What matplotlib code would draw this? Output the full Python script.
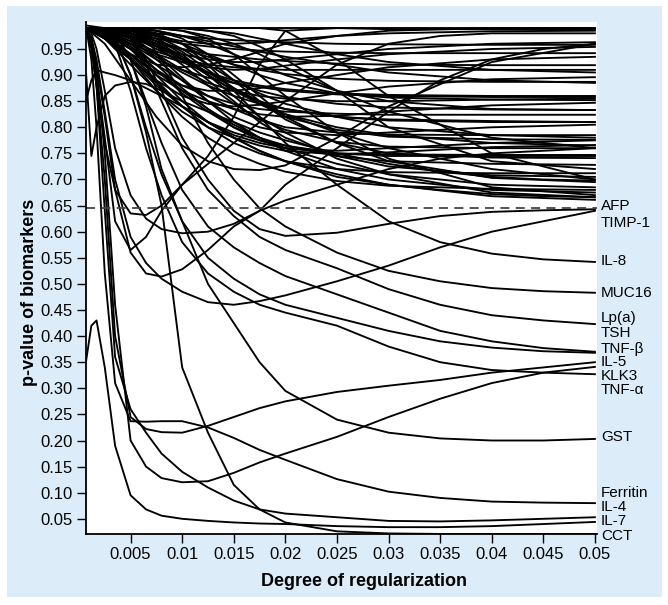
import matplotlib
matplotlib.use("Agg")
import matplotlib.pyplot as plt
from matplotlib.transforms import blended_transform_factory

plt.rcParams['font.family'] = ['Liberation Sans', 'DejaVu Sans']

# ---------------- data ----------------
# regularization grid for the labelled (low p-value) biomarkers
x_low = [0.0007, 0.0012, 0.0017, 0.0025, 0.0035, 0.005, 0.0065, 0.008, 0.01, 0.0125,
         0.015, 0.0175, 0.02, 0.025, 0.03, 0.035, 0.04, 0.045, 0.05]

afp      = [0.99, 0.99, 0.99, 0.99, 0.99, 0.97, 0.93, 0.87, 0.78, 0.70, 0.64, 0.605, 0.592, 0.598, 0.615, 0.63, 0.638, 0.641, 0.643]
timp1    = [0.99, 0.97, 0.93, 0.83, 0.70, 0.59, 0.54, 0.51, 0.485, 0.465, 0.46, 0.467, 0.478, 0.505, 0.535, 0.57, 0.60, 0.62, 0.64]
il8      = [0.99, 0.99, 0.99, 0.99, 0.99, 0.99, 0.985, 0.975, 0.96, 0.92, 0.87, 0.82, 0.77, 0.69, 0.62, 0.58, 0.558, 0.547, 0.542]
muc16    = [0.99, 0.99, 0.99, 0.99, 0.99, 0.99, 0.97, 0.93, 0.86, 0.77, 0.70, 0.645, 0.61, 0.56, 0.525, 0.505, 0.492, 0.486, 0.483]
lpa      = [0.99, 0.99, 0.99, 0.99, 0.985, 0.97, 0.92, 0.85, 0.76, 0.68, 0.63, 0.59, 0.565, 0.53, 0.49, 0.46, 0.44, 0.43, 0.423]
tsh      = [0.99, 0.99, 0.99, 0.99, 0.98, 0.93, 0.85, 0.77, 0.68, 0.61, 0.57, 0.54, 0.515, 0.48, 0.445, 0.41, 0.39, 0.377, 0.37]
tnfb     = [0.99, 0.99, 0.99, 0.985, 0.97, 0.90, 0.80, 0.71, 0.62, 0.55, 0.51, 0.48, 0.46, 0.435, 0.41, 0.39, 0.378, 0.371, 0.368]
il5      = [0.99, 0.96, 0.88, 0.70, 0.40, 0.245, 0.222, 0.216, 0.215, 0.228, 0.245, 0.262, 0.275, 0.293, 0.305, 0.316, 0.33, 0.34, 0.35]
klk3     = [0.99, 0.99, 0.99, 0.98, 0.96, 0.87, 0.76, 0.67, 0.58, 0.52, 0.485, 0.46, 0.445, 0.42, 0.38, 0.35, 0.335, 0.33, 0.327]
tnfa     = [0.99, 0.97, 0.91, 0.75, 0.46, 0.20, 0.15, 0.128, 0.12, 0.122, 0.138, 0.158, 0.175, 0.207, 0.245, 0.28, 0.31, 0.33, 0.341]
gst      = [0.99, 0.99, 0.99, 0.99, 0.98, 0.93, 0.84, 0.72, 0.62, 0.50, 0.425, 0.35, 0.295, 0.24, 0.215, 0.204, 0.20, 0.20, 0.203]
ferritin = [0.99, 0.93, 0.80, 0.52, 0.31, 0.237, 0.236, 0.237, 0.237, 0.225, 0.205, 0.182, 0.163, 0.126, 0.102, 0.09, 0.083, 0.081, 0.080]
il4      = [0.99, 0.96, 0.88, 0.64, 0.36, 0.26, 0.215, 0.175, 0.14, 0.11, 0.085, 0.068, 0.06, 0.053, 0.046, 0.045, 0.047, 0.05, 0.053]
il7      = [0.354, 0.42, 0.43, 0.34, 0.19, 0.095, 0.068, 0.056, 0.050, 0.046, 0.043, 0.041, 0.040, 0.036, 0.034, 0.034, 0.036, 0.040, 0.044]
cct      = [0.99, 0.99, 0.99, 0.99, 0.97, 0.90, 0.79, 0.65, 0.34, 0.215, 0.115, 0.068, 0.043, 0.026, 0.022, 0.021, 0.021, 0.021, 0.021]

# unlabelled curves that dip below the cut-off and rise again
dip_a    = [0.99, 0.96, 0.90, 0.78, 0.62, 0.565, 0.59, 0.64, 0.69, 0.745, 0.82, 0.92, 0.985, 0.99, 0.988, 0.988, 0.988, 0.988, 0.988]
dip_b    = [0.99, 0.95, 0.88, 0.77, 0.68, 0.635, 0.632, 0.65, 0.69, 0.73, 0.77, 0.81, 0.85, 0.92, 0.96, 0.975, 0.98, 0.98, 0.98]
dip_c    = [0.99, 0.97, 0.92, 0.82, 0.68, 0.56, 0.52, 0.514, 0.528, 0.565, 0.61, 0.64, 0.69, 0.76, 0.83, 0.89, 0.93, 0.95, 0.96]
dip_d    = [0.99, 0.98, 0.95, 0.87, 0.76, 0.67, 0.625, 0.605, 0.597, 0.60, 0.615, 0.64, 0.66, 0.69, 0.72, 0.74, 0.75, 0.755, 0.76]
dip_e    = [0.852, 0.89, 0.91, 0.905, 0.90, 0.89, 0.875, 0.86, 0.84, 0.81, 0.78, 0.755, 0.735, 0.705, 0.69, 0.68, 0.672, 0.668, 0.666]
dip_f    = [0.90, 0.745, 0.80, 0.86, 0.88, 0.887, 0.883, 0.87, 0.85, 0.83, 0.81, 0.79, 0.775, 0.75, 0.73, 0.715, 0.705, 0.70, 0.698]

lower_series = [afp, timp1, il8, muc16, lpa, tsh, tnfb, il5, klk3, tnfa, gst, ferritin, il4, il7, cct,
                dip_a, dip_b, dip_c, dip_d, dip_e, dip_f]

# regularization grid for the unlabelled (high p-value) biomarkers
x_high = [0.0007, 0.0025, 0.005, 0.0075, 0.01, 0.0125, 0.015, 0.0175, 0.02, 0.025, 0.03, 0.04, 0.05]

u01 = [0.99, 0.99, 0.99, 0.99, 0.99, 0.99, 0.99, 0.99, 0.99, 0.99, 0.99, 0.99, 0.99]
u02 = [0.995, 0.99, 0.985, 0.975, 0.965, 0.96, 0.96, 0.962, 0.967, 0.975, 0.98, 0.984, 0.985]
u03 = [0.99, 0.985, 0.97, 0.955, 0.94, 0.93, 0.925, 0.925, 0.93, 0.94, 0.95, 0.96, 0.963]
u04 = [0.99, 0.99, 0.985, 0.98, 0.975, 0.97, 0.967, 0.965, 0.963, 0.96, 0.959, 0.958, 0.958]
u05 = [0.99, 0.98, 0.96, 0.94, 0.925, 0.915, 0.91, 0.912, 0.918, 0.93, 0.94, 0.95, 0.954]
u06 = [0.99, 0.99, 0.98, 0.97, 0.96, 0.955, 0.95, 0.947, 0.945, 0.943, 0.942, 0.942, 0.942]
u07 = [0.99, 0.975, 0.94, 0.905, 0.88, 0.87, 0.87, 0.875, 0.885, 0.90, 0.915, 0.93, 0.935]
u08 = [0.99, 0.99, 0.975, 0.96, 0.95, 0.94, 0.935, 0.93, 0.927, 0.922, 0.92, 0.919, 0.919]
u09 = [0.99, 0.985, 0.965, 0.945, 0.93, 0.92, 0.915, 0.912, 0.91, 0.91, 0.91, 0.91, 0.91]
u10 = [0.99, 0.97, 0.93, 0.89, 0.86, 0.845, 0.84, 0.843, 0.85, 0.865, 0.878, 0.892, 0.896]
u11 = [0.99, 0.99, 0.98, 0.965, 0.95, 0.935, 0.92, 0.91, 0.902, 0.893, 0.889, 0.887, 0.887]
u12 = [0.99, 0.985, 0.96, 0.93, 0.91, 0.895, 0.885, 0.877, 0.87, 0.863, 0.86, 0.858, 0.858]
u13 = [0.99, 0.99, 0.985, 0.975, 0.96, 0.94, 0.92, 0.90, 0.885, 0.865, 0.857, 0.853, 0.852]
u14 = [0.99, 0.975, 0.94, 0.90, 0.87, 0.85, 0.835, 0.825, 0.82, 0.822, 0.83, 0.842, 0.847]
u15 = [0.99, 0.99, 0.975, 0.955, 0.93, 0.905, 0.885, 0.87, 0.858, 0.845, 0.838, 0.834, 0.833]
u16 = [0.99, 0.98, 0.95, 0.91, 0.88, 0.86, 0.845, 0.835, 0.83, 0.826, 0.824, 0.824, 0.824]
u17 = [0.99, 0.99, 0.98, 0.96, 0.93, 0.90, 0.87, 0.85, 0.835, 0.82, 0.813, 0.81, 0.81]
u18 = [0.99, 0.98, 0.955, 0.92, 0.89, 0.86, 0.835, 0.815, 0.80, 0.79, 0.786, 0.785, 0.785]
u19 = [0.99, 0.99, 0.985, 0.97, 0.945, 0.91, 0.875, 0.845, 0.82, 0.795, 0.782, 0.777, 0.776]
u20 = [0.99, 0.97, 0.92, 0.87, 0.83, 0.80, 0.78, 0.765, 0.755, 0.748, 0.752, 0.762, 0.766]
u21 = [0.99, 0.99, 0.98, 0.955, 0.92, 0.88, 0.845, 0.815, 0.795, 0.772, 0.763, 0.76, 0.76]
u22 = [0.99, 0.985, 0.96, 0.92, 0.875, 0.835, 0.80, 0.775, 0.76, 0.75, 0.748, 0.747, 0.747]
u23 = [0.99, 0.99, 0.99, 0.98, 0.96, 0.93, 0.89, 0.85, 0.815, 0.77, 0.75, 0.742, 0.741]
u24 = [0.99, 0.98, 0.94, 0.89, 0.84, 0.80, 0.77, 0.75, 0.735, 0.72, 0.714, 0.712, 0.712]
u25 = [0.99, 0.99, 0.98, 0.96, 0.93, 0.89, 0.85, 0.81, 0.78, 0.745, 0.725, 0.708, 0.705]
u26 = [0.99, 0.99, 0.99, 0.985, 0.97, 0.94, 0.90, 0.86, 0.82, 0.77, 0.735, 0.703, 0.695]
u27 = [0.99, 0.975, 0.93, 0.87, 0.82, 0.78, 0.75, 0.73, 0.715, 0.697, 0.688, 0.682, 0.68]
u28 = [0.99, 0.99, 0.975, 0.94, 0.895, 0.85, 0.81, 0.78, 0.755, 0.72, 0.70, 0.68, 0.675]
u29 = [0.99, 0.99, 0.985, 0.97, 0.94, 0.90, 0.86, 0.82, 0.79, 0.74, 0.71, 0.675, 0.666]
u30 = [0.99, 0.98, 0.95, 0.90, 0.85, 0.81, 0.78, 0.755, 0.735, 0.71, 0.69, 0.668, 0.661]
u31 = [0.99, 0.97, 0.94, 0.92, 0.915, 0.92, 0.93, 0.945, 0.96, 0.975, 0.985, 0.99, 0.99]
u32 = [0.99, 0.99, 0.99, 0.99, 0.985, 0.97, 0.94, 0.90, 0.86, 0.79, 0.74, 0.685, 0.67]
u33 = [0.99, 0.99, 0.99, 0.99, 0.99, 0.985, 0.975, 0.955, 0.93, 0.87, 0.80, 0.735, 0.72]
u34 = [0.99, 0.96, 0.89, 0.82, 0.765, 0.735, 0.72, 0.718, 0.727, 0.78, 0.84, 0.925, 0.96]
u35 = [0.99, 0.99, 0.99, 0.99, 0.99, 0.99, 0.99, 0.99, 0.985, 0.93, 0.86, 0.75, 0.70]
u36 = [0.99, 0.99, 0.97, 0.93, 0.89, 0.85, 0.82, 0.80, 0.79, 0.785, 0.79, 0.80, 0.805]
u37 = [0.99, 0.985, 0.955, 0.91, 0.865, 0.83, 0.80, 0.78, 0.765, 0.745, 0.735, 0.73, 0.728]
u38 = [0.99, 0.99, 0.99, 0.975, 0.95, 0.92, 0.89, 0.865, 0.845, 0.82, 0.80, 0.785, 0.78]
u39 = [0.99, 0.98, 0.95, 0.91, 0.87, 0.835, 0.805, 0.78, 0.76, 0.73, 0.71, 0.69, 0.685]
u40 = [0.99, 0.99, 0.985, 0.965, 0.935, 0.90, 0.87, 0.845, 0.825, 0.80, 0.785, 0.77, 0.765]
u41 = [0.99, 0.99, 0.97, 0.94, 0.91, 0.885, 0.87, 0.86, 0.855, 0.85, 0.85, 0.853, 0.855]
u42 = [0.99, 0.985, 0.965, 0.935, 0.905, 0.88, 0.86, 0.845, 0.835, 0.82, 0.815, 0.812, 0.81]
u43 = [0.99, 0.99, 0.99, 0.985, 0.975, 0.96, 0.94, 0.92, 0.90, 0.87, 0.85, 0.835, 0.833]
u44 = [0.99, 0.99, 0.99, 0.99, 0.985, 0.975, 0.96, 0.94, 0.915, 0.87, 0.83, 0.78, 0.76]
u45 = [0.99, 0.975, 0.935, 0.885, 0.84, 0.81, 0.79, 0.775, 0.765, 0.75, 0.745, 0.745, 0.745]
u46 = [0.99, 0.99, 0.98, 0.96, 0.935, 0.905, 0.875, 0.85, 0.825, 0.79, 0.76, 0.72, 0.70]
u47 = [0.99, 0.99, 0.99, 0.985, 0.975, 0.965, 0.955, 0.945, 0.935, 0.92, 0.905, 0.89, 0.885]
u48 = [0.99, 0.97, 0.93, 0.88, 0.84, 0.81, 0.785, 0.77, 0.76, 0.755, 0.76, 0.77, 0.775]
u49 = [0.99, 0.99, 0.975, 0.95, 0.925, 0.905, 0.89, 0.88, 0.873, 0.865, 0.862, 0.86, 0.86]
u50 = [0.99, 0.99, 0.99, 0.99, 0.99, 0.985, 0.98, 0.97, 0.96, 0.94, 0.925, 0.91, 0.905]

upper_series = [u01, u02, u03, u04, u05, u06, u07, u08, u09, u10, u11, u12, u13, u14, u15, u16, u17,
                u18, u19, u20, u21, u22, u23, u24, u25, u26, u27, u28, u29, u30, u31, u32, u33, u34,
                u35, u36, u37, u38, u39, u40, u41, u42, u43, u44, u45, u46, u47, u48, u49, u50]

cutoff = 0.645

label_names = ["AFP", "TIMP-1", "IL-8", "MUC16", "Lp(a)", "TSH", "TNF-\u03b2", "IL-5", "KLK3",
               "TNF-\u03b1", "GST", "Ferritin", "IL-4", "IL-7", "CCT"]
label_pos = [0.649, 0.617, 0.544, 0.483, 0.435, 0.405, 0.376, 0.350, 0.323, 0.296,
             0.207, 0.099, 0.072, 0.046, 0.018]

y_ticks = [0.05, 0.10, 0.15, 0.20, 0.25, 0.30, 0.35, 0.40, 0.45, 0.50,
           0.55, 0.60, 0.65, 0.70, 0.75, 0.80, 0.85, 0.90, 0.95]
x_ticks = [0.005, 0.01, 0.015, 0.02, 0.025, 0.03, 0.035, 0.04, 0.045, 0.05]
x_tick_labels = ["0.005", "0.01", "0.015", "0.02", "0.025", "0.03", "0.035", "0.04", "0.045", "0.05"]

# ---------------- figure ----------------
W, H = 668, 605
fig = plt.figure(figsize=(W / 100, H / 100), dpi=100)
fig.patch.set_facecolor('white')

bg = fig.add_axes([7 / W, 1 - 597 / H, (662 - 7) / W, (597 - 6) / H], zorder=-5)
bg.set_facecolor('#dcedf9')
bg.set_xticks([])
bg.set_yticks([])
for sp in bg.spines.values():
    sp.set_visible(False)

ax = fig.add_axes([86 / W, 1 - 534 / H, (597 - 86) / W, (534 - 22) / H], zorder=1)
ax.set_facecolor('white')

for s in upper_series:
    ax.plot(x_high, s, color='black', lw=1.35, solid_joinstyle='round')
for s in lower_series:
    ax.plot(x_low, s, color='black', lw=1.35, solid_joinstyle='round')

ax.axhline(cutoff, color='#444444', lw=1.3, dashes=(5, 3.5))

ax.set_xlim(0.00068, 0.0502)
ax.set_ylim(0.0209, 1.0017)

ax.set_yticks(y_ticks)
ax.set_yticklabels([f"{v:.2f}" for v in y_ticks])
ax.set_xticks(x_ticks)
ax.set_xticklabels(x_tick_labels)
ax.tick_params(axis='both', direction='out', length=6.5, width=1.0, color='black',
               labelsize=12, pad=3)

for side in ('top', 'right'):
    ax.spines[side].set_visible(False)
for side in ('left', 'bottom'):
    ax.spines[side].set_linewidth(1.3)

trans = blended_transform_factory(ax.transAxes, ax.transData)
for name, yv in zip(label_names, label_pos):
    ax.text(1.008, yv, name, transform=trans, fontsize=11, va='center', ha='left',
            clip_on=False)

fig.text(30 / W, 1 - 292 / H, "p-value of biomarkers", rotation=90, fontsize=13,
         fontweight='bold', ha='center', va='center')
fig.text(364 / W, 1 - 582 / H, "Degree of regularization", fontsize=13,
         fontweight='bold', ha='center', va='center')

fig.savefig("out.png", dpi=100)
